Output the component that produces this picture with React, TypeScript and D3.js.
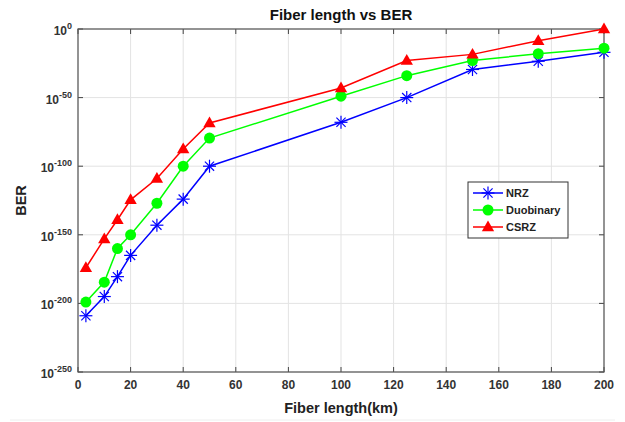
import React from "react";
import * as d3 from "d3";

const fiberLength = [3, 10, 15, 20, 30, 40, 50, 100, 125, 150, 175, 200];
// log10(BER) values
const nrzExp = [-209, -195, -180.5, -165, -143, -124, -100, -68, -50, -29.5, -23.5, -17];
const duoExp = [-199, -184.5, -160, -150, -127, -100, -79.5, -49, -34, -23, -18, -14];
const csrzExp = [-174, -153, -139, -124.5, -109, -87.5, -68.5, -43, -23, -18.5, -8.5, 0];

const xTicks = [0, 20, 40, 60, 80, 100, 120, 140, 160, 180, 200];
const yTicks = [0, -50, -100, -150, -200, -250];

const seriesNames = ["NRZ", "Duobinary", "CSRZ"];
const seriesColors = ["#0000ff", "#00ff00", "#ff0000"];

const W = 625;
const H = 422;
const left = 78;
const right = 604;
const top = 29;
const bottom = 372;
const font = "'Liberation Sans', Arial, sans-serif";

export default function App() {
  const x = d3.scaleLinear().domain([0, 200]).range([left, right]);
  const y = d3.scaleLinear().domain([-250, 0]).range([bottom, top]);
  const line = d3
    .line<[number, number]>()
    .x((d) => x(d[0]))
    .y((d) => y(d[1]));

  const series = [nrzExp, duoExp, csrzExp];

  const marker = (i: number, cx: number, cy: number, key: string) => {
    const c = seriesColors[i];
    if (i === 0) {
      const r = 6.5;
      const angles = [0, 45, 90, 135];
      return (
        <g key={key}>
          {angles.map((a) => {
            const rad = (a * Math.PI) / 180;
            return (
              <line
                key={a}
                x1={cx - r * Math.cos(rad)}
                y1={cy - r * Math.sin(rad)}
                x2={cx + r * Math.cos(rad)}
                y2={cy + r * Math.sin(rad)}
                stroke={c}
                strokeWidth={1.2}
              />
            );
          })}
        </g>
      );
    }
    if (i === 1) {
      return <circle key={key} cx={cx} cy={cy} r={5.5} fill={c} />;
    }
    const s = 6.5;
    return (
      <path
        key={key}
        d={`M${cx},${cy - s} L${cx + s * 0.95},${cy + s * 0.65} L${cx - s * 0.95},${cy + s * 0.65} Z`}
        fill={c}
      />
    );
  };

  const legX = 468;
  const legY = 182;
  const legW = 100;
  const legH = 56;

  return (
    <svg
      width={W}
      height={H}
      style={{ position: "absolute", left: 0, top: 0, background: "#fff" }}
      fontFamily={font}
    >
      <rect x={0} y={0} width={W} height={H} fill="#fff" />
      {/* grid */}
      {xTicks.map((t) => (
        <line key={"gx" + t} x1={x(t)} x2={x(t)} y1={top} y2={bottom} stroke="#e3e3e3" strokeWidth={1} />
      ))}
      {yTicks.map((t) => (
        <line key={"gy" + t} x1={left} x2={right} y1={y(t)} y2={y(t)} stroke="#e3e3e3" strokeWidth={1} />
      ))}
      {/* ticks inside */}
      {xTicks.map((t) => (
        <g key={"tx" + t}>
          <line x1={x(t)} x2={x(t)} y1={bottom} y2={bottom - 5} stroke="#444" />
          <line x1={x(t)} x2={x(t)} y1={top} y2={top + 5} stroke="#444" />
          <text x={x(t)} y={bottom + 17} textAnchor="middle" fontSize={12} fontWeight="bold" fill="#333">
            {t}
          </text>
        </g>
      ))}
      {yTicks.map((t) => (
        <g key={"ty" + t}>
          <line x1={left} x2={left + 5} y1={y(t)} y2={y(t)} stroke="#444" />
          <line x1={right} x2={right - 5} y1={y(t)} y2={y(t)} stroke="#444" />
          <text x={left - 6} y={y(t) + 6} textAnchor="end" fontSize={12} fontWeight="bold" fill="#333">
            10
            <tspan dy={-6} fontSize={9}>
              {t}
            </tspan>
          </text>
        </g>
      ))}
      {/* axes box */}
      <rect x={left} y={top} width={right - left} height={bottom - top} fill="none" stroke="#555" strokeWidth={1.2} />
      {/* series */}
      {series.map((s, i) => {
        const pts = fiberLength.map((f, j) => [f, s[j]] as [number, number]);
        return (
          <g key={"s" + i}>
            <path d={line(pts) || ""} fill="none" stroke={seriesColors[i]} strokeWidth={1.5} />
            {pts.map((p, j) => marker(i, x(p[0]), y(p[1]), `m${i}-${j}`))}
          </g>
        );
      })}
      {/* title */}
      <text x={(left + right) / 2} y={20} textAnchor="middle" fontSize={15} fontWeight="bold" fill="#111">
        Fiber length vs BER
      </text>
      {/* axis labels */}
      <text x={(left + right) / 2} y={413} textAnchor="middle" fontSize={14.5} fontWeight="bold" fill="#222">
        Fiber length(km)
      </text>
      <text
        transform={`translate(26,${(top + bottom) / 2}) rotate(-90)`}
        textAnchor="middle"
        fontSize={14.5}
        fontWeight="bold"
        fill="#222"
      >
        BER
      </text>
      {/* legend */}
      <rect x={legX} y={legY} width={legW} height={legH} fill="#fff" stroke="#333" strokeWidth={1} />
      {seriesNames.map((n, i) => {
        const ly = legY + 11 + i * 17;
        return (
          <g key={"l" + i}>
            <line x1={legX + 5} x2={legX + 35} y1={ly} y2={ly} stroke={seriesColors[i]} strokeWidth={1.5} />
            {marker(i, legX + 20, ly, "lm" + i)}
            <text x={legX + 38} y={ly + 4} fontSize={11} fontWeight="bold" fill="#222">
              {n}
            </text>
          </g>
        );
      })}
      <line x1={10} x2={615} y1={420} y2={420} stroke="#eeeeee" strokeWidth={1} />
    </svg>
  );
}
